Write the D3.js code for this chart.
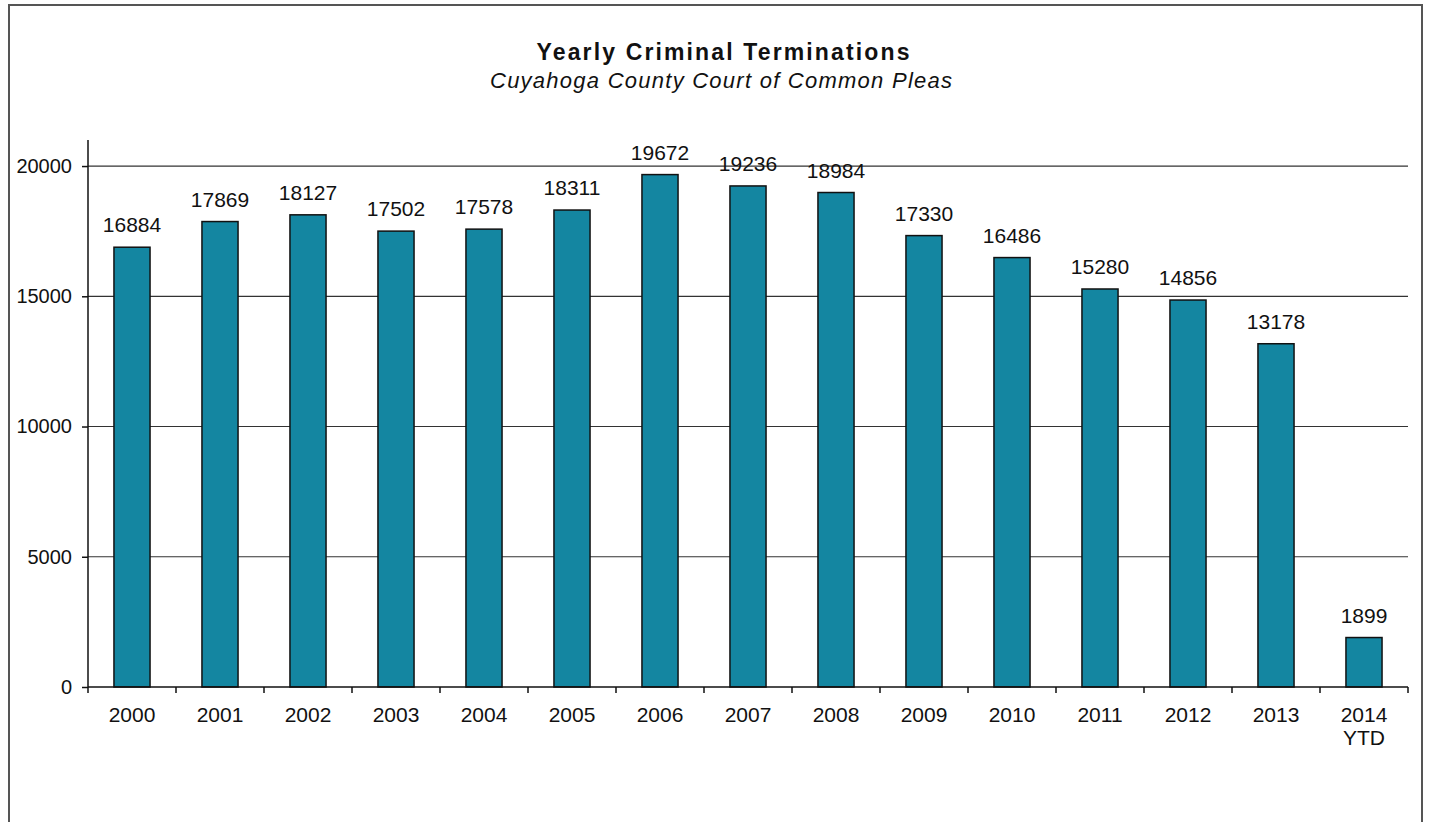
<!DOCTYPE html>
<html>
<head>
<meta charset="utf-8">
<script src="https://d3js.org/d3.v7.min.js"></script>
<style>
  body { margin: 0; background: #fff; }
  text { font-family: Arial, "Liberation Sans", sans-serif; fill: #111; }
</style>
</head>
<body>
<svg id="svg_chart" width="1429" height="822"></svg>
<script>
var titleText = "Yearly Criminal Terminations";
var subtitleText = "Cuyahoga County Court of Common Pleas";
var years = ["2000", "2001", "2002", "2003", "2004", "2005", "2006", "2007",
    "2008", "2009", "2010", "2011", "2012", "2013", "2014\nYTD"];
var terminations = [16884, 17869, 18127, 17502, 17578, 18311, 19672, 19236,
    18984, 17330, 16486, 15280, 14856, 13178, 1899];
var yTicks = [0, 5000, 10000, 15000, 20000];

// plot box (don't call it "top", that's window.top)
var plotLeft = 88, plotRight = 1408, plotTop = 140, plotBottom = 687;
var barColor = "#1486a1";

var data = years.map(function (y, i) {
    return { year: y, value: terminations[i] };
});

var svg = d3.select('#svg_chart');

// outer frame, bottom edge runs off the page like the scan
svg.append('rect')
    .attr('x', 9)
    .attr('y', 5)
    .attr('width', 1413)
    .attr('height', 840)
    .attr('fill', 'none')
    .attr('stroke', '#555')
    .attr('stroke-width', 2);

svg.append('text')
    .attr('x', 723)
    .attr('y', 60)
    .attr('text-anchor', 'middle')
    .attr('font-size', 23)
    .attr('font-weight', 'bold')
    .attr('textLength', 373)
    .attr('lengthAdjust', 'spacing')
    .text(titleText);

svg.append('text')
    .attr('x', 721)
    .attr('y', 88)
    .attr('text-anchor', 'middle')
    .attr('font-size', 22)
    .attr('font-style', 'italic')
    .attr('textLength', 462)
    .attr('lengthAdjust', 'spacing')
    .text(subtitleText);

var xScale = d3.scaleBand()
    .domain(years)
    .range([plotLeft, plotRight])
    .paddingInner(0.59)
    .paddingOuter(0.295);

var yScale = d3.scaleLinear()
    .domain([0, 21000])
    .range([plotBottom, plotTop]);

// gridlines
svg.append('g')
    .selectAll('line')
    .data(yTicks.filter(function (d) { return d > 0; }))
    .enter()
    .append('line')
    .attr('x1', plotLeft)
    .attr('x2', plotRight)
    .attr('y1', function (d) { return yScale(d); })
    .attr('y2', function (d) { return yScale(d); })
    .attr('stroke', '#333')
    .attr('stroke-width', 1.2);

// bars
svg.append('g')
    .selectAll('rect')
    .data(data)
    .enter()
    .append('rect')
    .attr('x', function (d) { return xScale(d.year); })
    .attr('y', function (d) { return yScale(d.value); })
    .attr('width', xScale.bandwidth())
    .attr('height', function (d) { return plotBottom - yScale(d.value); })
    .attr('fill', barColor)
    .attr('stroke', '#111')
    .attr('stroke-width', 1.5);

// value labels
svg.append('g')
    .selectAll('text')
    .data(data)
    .enter()
    .append('text')
    .attr('x', function (d) { return xScale(d.year) + xScale.bandwidth() / 2; })
    .attr('y', function (d) { return yScale(d.value) - 15; })
    .attr('text-anchor', 'middle')
    .attr('font-size', 21)
    .text(function (d) { return d.value; });

// y axis
var yAxis = d3.axisLeft(yScale)
    .tickValues(yTicks)
    .tickSize(6)
    .tickPadding(10)
    .tickFormat(d3.format('d'));

var yAxisG = svg.append('g')
    .attr('transform', 'translate(' + plotLeft + ',0)')
    .call(yAxis);
yAxisG.select('.domain')
    .attr('d', 'M0,' + plotTop + 'V' + (plotBottom + 6))
    .attr('stroke', '#111')
    .attr('stroke-width', 1.5);
yAxisG.selectAll('line').attr('stroke', '#111').attr('stroke-width', 1.5);
yAxisG.selectAll('text')
    .attr('font-size', 20)
    .attr('fill', '#111')
    .style('font-family', 'Arial, "Liberation Sans", sans-serif');

// x axis: line with ticks at category boundaries
var xAxisG = svg.append('g');
xAxisG.append('line')
    .attr('x1', plotLeft)
    .attr('x2', plotRight)
    .attr('y1', plotBottom)
    .attr('y2', plotBottom)
    .attr('stroke', '#111')
    .attr('stroke-width', 1.5);

var step = xScale.step();
xAxisG.selectAll('.xtick')
    .data(years)
    .enter()
    .append('line')
    .attr('class', 'xtick')
    .attr('x1', function (d, i) { return plotLeft + (i + 1) * step; })
    .attr('x2', function (d, i) { return plotLeft + (i + 1) * step; })
    .attr('y1', plotBottom)
    .attr('y2', plotBottom + 6)
    .attr('stroke', '#111')
    .attr('stroke-width', 1.5);

var xLabels = xAxisG.selectAll('.xlabel')
    .data(years)
    .enter()
    .append('text')
    .attr('class', 'xlabel')
    .attr('x', function (d) { return xScale(d) + xScale.bandwidth() / 2; })
    .attr('y', 722)
    .attr('text-anchor', 'middle')
    .attr('font-size', 21);

xLabels.selectAll('tspan')
    .data(function (d) { return d.split('\n'); })
    .enter()
    .append('tspan')
    .attr('x', function () { return d3.select(this.parentNode).attr('x'); })
    .attr('dy', function (d, i) { return i === 0 ? 0 : 23; })
    .text(function (d) { return d; });
</script>
</body>
</html>
